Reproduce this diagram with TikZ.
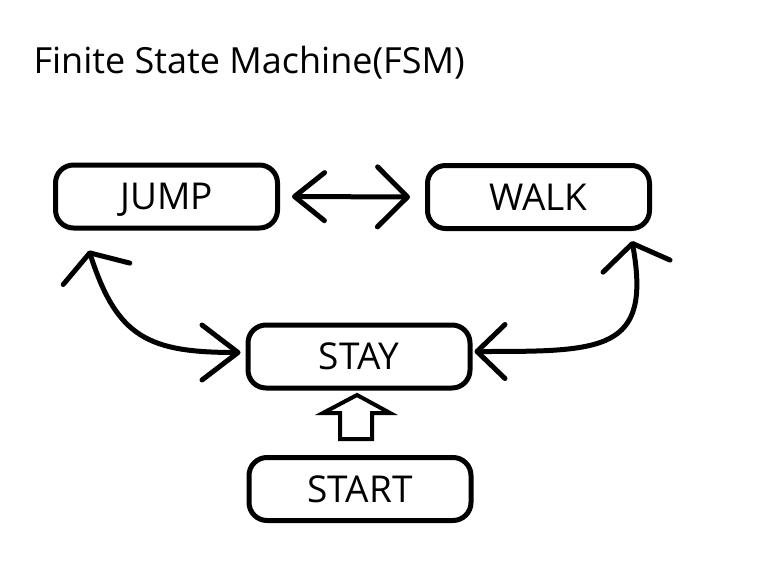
\documentclass[tikz,border=0pt]{standalone}
\usepackage{fontspec}
\setmainfont{Open Sans}
\usetikzlibrary{arrows.meta,calc}
\begin{document}
\begin{tikzpicture}[x=1pt,y=-1pt,
        state/.style={draw, line width=5pt, rounded corners=18pt, minimum width=222pt, minimum height=63pt, inner sep=0pt, text depth=0pt, font=\fontsize{37}{44}\selectfont},
        link/.style={line width=5pt, line cap=round}]
        \useasboundingbox (0,0) rectangle (766,586);
        \node [anchor=base west, font=\fontsize{36}{42}\selectfont] (title) at (30,74) {Finite State Machine(FSM)};
        \node [state] (jump) at (166.5,196.5) {JUMP};
        \node [state] (walk) at (538.5,197) {WALK};
        \node [state] (stay) at (359,356.5) {STAY};
        \node [state] (start) at (360,489) {START};
        % transitions
        \draw [link, {Straight Barb[length=30pt,width=48pt,round]}-{Straight Barb[length=30pt,width=60pt,round]}] ($(jump.east)+(12,0)$) -- ($(walk.west)+(-15,0)$);
        \draw [link, {Straight Barb[length=22pt,width=70pt,round]}-{Straight Barb[length=36pt,width=55pt,round]}] ($(jump.south west)+(36,20)$) .. controls +(28,87) and +(-92,0) .. ($(stay.west)+(-5,-4)$);
        \draw [link, {Straight Barb[length=23pt,width=68pt,round]}-{Straight Barb[length=28pt,width=54pt,round]}] ($(walk.south east)+(-20,10)$) .. controls +(20,111) and +(128,0) .. ($(stay.east)+(2,-5)$);
        % start arrow
        \draw [line width=4pt] ($(start.north)+(-20,-16)$) -- ++(0,-26) -- ++(-17,0) -- ++(34,-18) -- ++(33,18) -- ++(-18,0) -- ++(0,26) -- cycle;
\end{tikzpicture}
\end{document}
